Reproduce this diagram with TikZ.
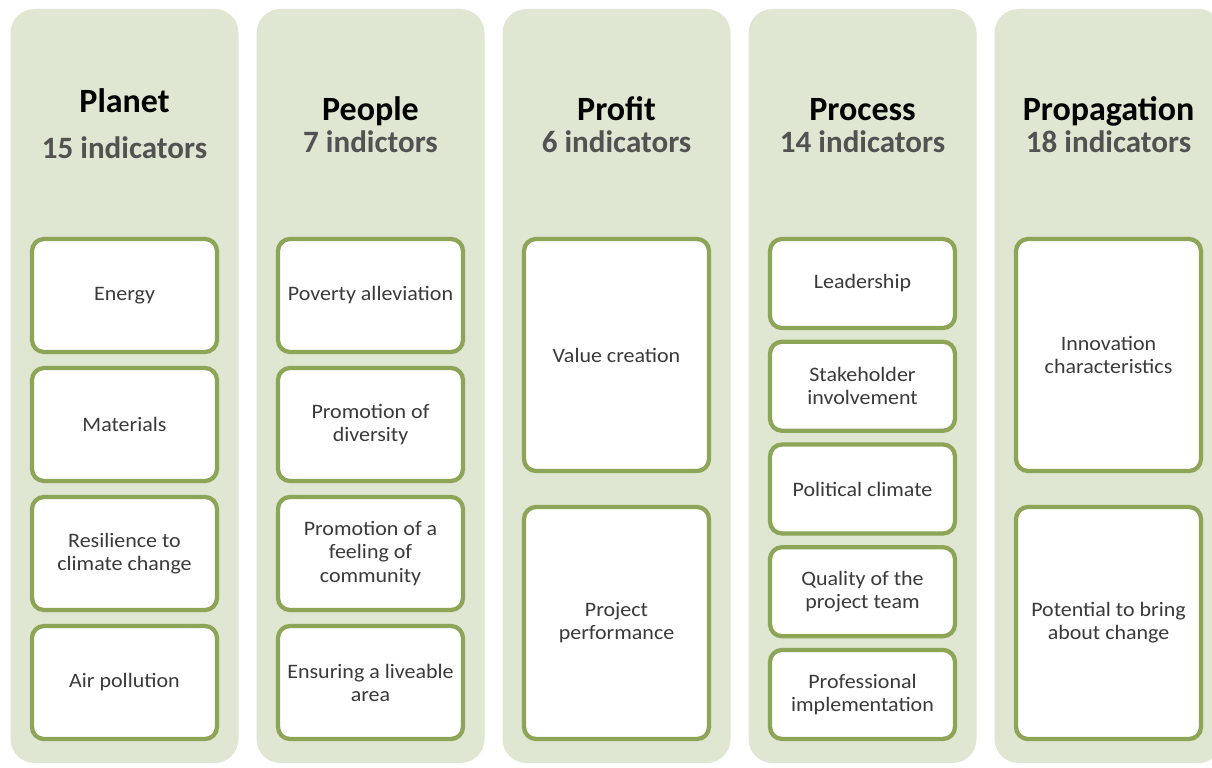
\documentclass[tikz,border=0pt]{standalone}
\usepackage{fontspec}
\setmainfont{Carlito}
\newfontfamily\itemfont{Carlito}[FakeStretch=1.07]
\usepackage{tikz}
\usetikzlibrary{positioning}
\definecolor{sagefill}{HTML}{DFE6D1}
\definecolor{olivegreen}{HTML}{8CA557}
\definecolor{labelgrey}{HTML}{3A3A3A}
\definecolor{countgrey}{HTML}{525252}

\tikzset{
  pillar/.style={fill=sagefill, rounded corners=18pt, inner sep=0pt,
                 minimum width=171pt, minimum height=565.5pt},
  item/.style={draw=olivegreen, fill=white, line width=3.2pt, rounded corners=9pt,
               minimum width=138.75pt, inner sep=2pt, outer sep=0pt, align=center,
               text=labelgrey, font=\itemfont\fontsize{15.4}{17.3}\selectfont},
  itemfour/.style={item, minimum height=84.75pt},
  itemtwo/.style={item, minimum height=174pt},
  itemfive/.style={item, minimum height=66.75pt},
  pname/.style={anchor=base, font=\fontsize{25.5}{28}\selectfont\bfseries},
  pcount/.style={anchor=base, text=countgrey, font=\fontsize{23.3}{26}\selectfont\bfseries}
}

\begin{document}
\begin{tikzpicture}[x=0.75pt, y=-0.75pt]
  \useasboundingbox (0,0) rectangle (1212,767);
  \fill[white] (0,0) rectangle (1212,767);
  \clip (0,0) rectangle (1212,767);

  % the five pillars
  \node[pillar] (planet) at (124.5,386) {};
  \node[pillar] (people) at (370.5,386) {};
  \node[pillar] (profit) at (616.5,386) {};
  \node[pillar] (process) at (862.5,386) {};
  \node[pillar] (propagation) at (1108.5,386) {};

  % headings
  \node[pname] (planettitle) at (124.5,112) {Planet};
  \node[pcount] (planetcount) at (124.5,158) {15 indicators};
  \node[pname] (peopletitle) at (370.5,120) {People};
  \node[pcount] (peoplecount) at (370.5,152) {7 indictors};
  \node[pname] (profittitle) at (616.5,120) {Profit};
  \node[pcount] (profitcount) at (616.5,152) {6 indicators};
  \node[pname] (processtitle) at (862.5,120) {Process};
  \node[pcount] (processcount) at (862.5,152) {14 indicators};
  \node[pname] (propagationtitle) at (1108.5,120) {Propagation};
  \node[pcount] (propagationcount) at (1108.5,152) {18 indicators};

  % planet
  \node[itemfour, anchor=north] (energy) at (124.5,239) {Energy};
  \node[itemfour, below=12pt of energy] (materials) {Materials};
  \node[itemfour, below=12pt of materials] (resilience) {Resilience to\\climate change};
  \node[itemfour, below=12pt of resilience] (air) {Air pollution};

  % people
  \node[itemfour, anchor=north] (poverty) at (370.5,239) {Poverty alleviation};
  \node[itemfour, below=12pt of poverty] (diversity) {Promotion of\\diversity};
  \node[itemfour, below=12pt of diversity] (community) {Promotion of a\\feeling of\\community};
  \node[itemfour, below=12pt of community] (liveable) {Ensuring a liveable\\area};

  % profit
  \node[itemtwo, anchor=north] (value) at (616.5,239) {Value creation};
  \node[itemtwo, below=27pt of value] (performance) {Project\\performance};

  % process
  \node[itemfive, anchor=north] (leadership) at (862.5,239) {Leadership};
  \node[itemfive, below=10.3pt of leadership] (stakeholder) {Stakeholder\\involvement};
  \node[itemfive, below=10.3pt of stakeholder] (political) {Political climate};
  \node[itemfive, below=10.3pt of political] (quality) {Quality of the\\project team};
  \node[itemfive, below=10.3pt of quality] (professional) {Professional\\implementation};

  % propagation
  \node[itemtwo, anchor=north] (innovation) at (1108.5,239) {Innovation\\characteristics};
  \node[itemtwo, below=27pt of innovation] (potential) {Potential to bring\\about change};
\end{tikzpicture}
\end{document}
